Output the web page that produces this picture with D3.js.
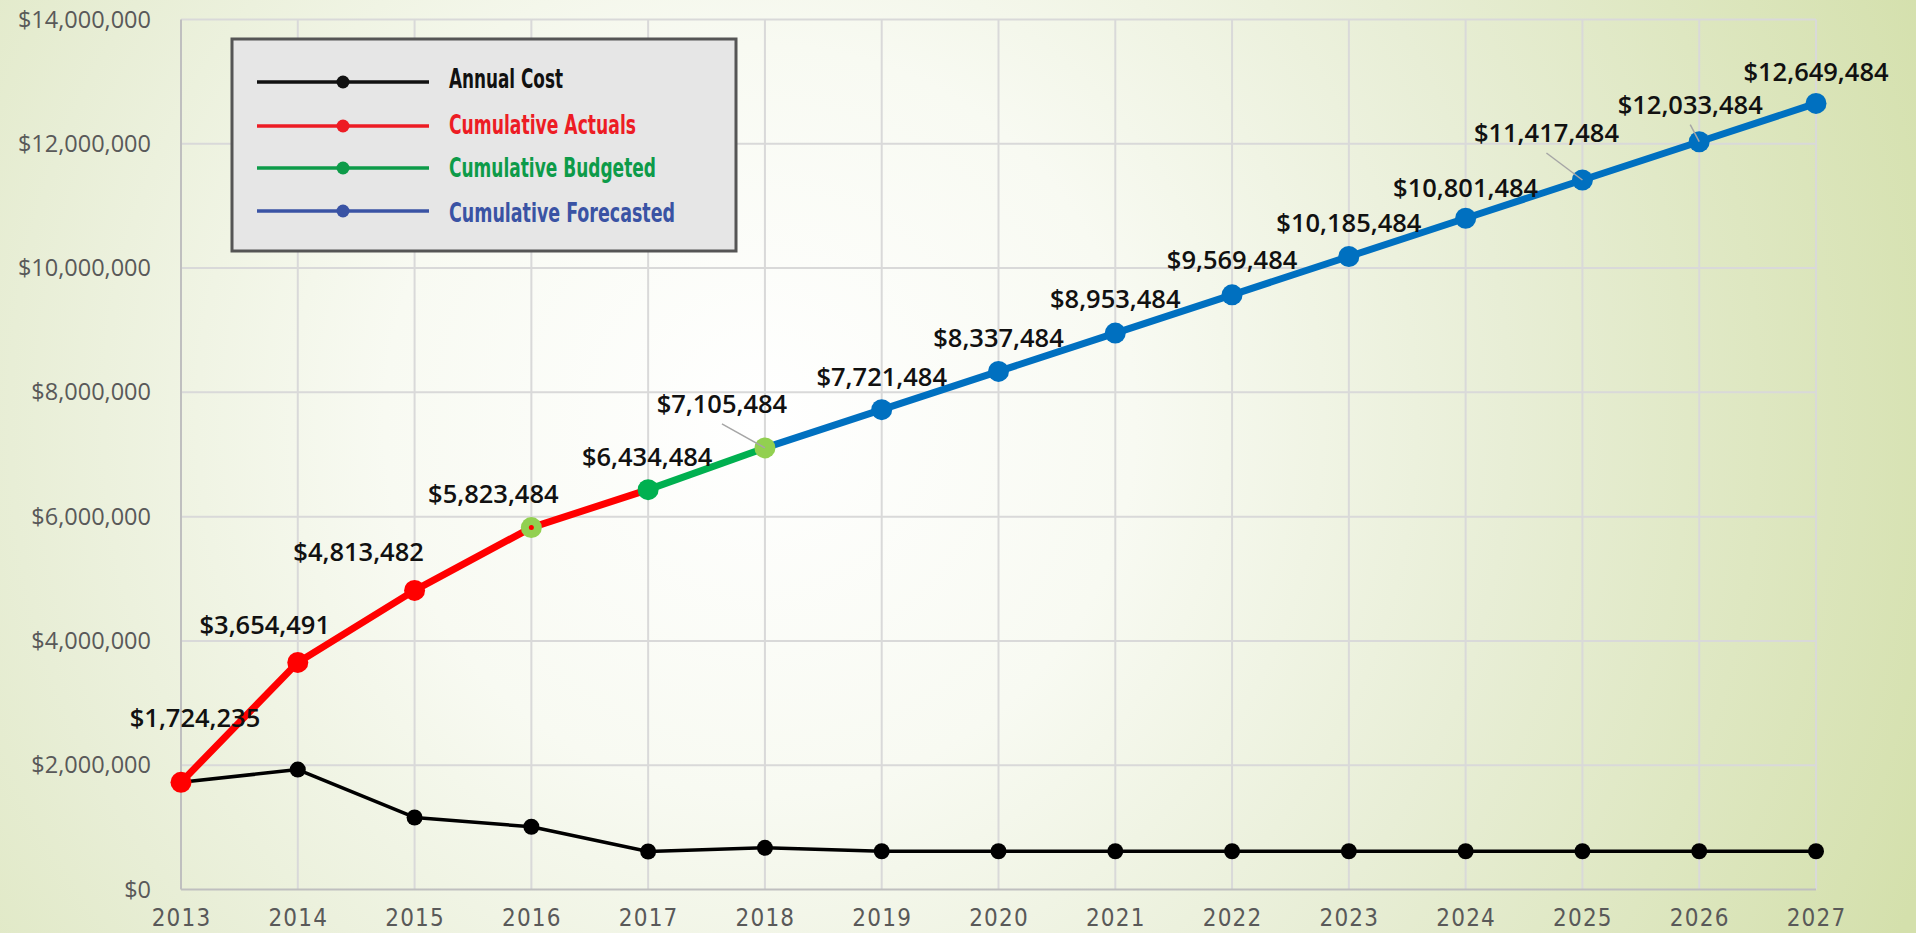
<!DOCTYPE html>
<html><head><meta charset="utf-8">
<script src="https://cdn.jsdelivr.net/npm/d3@7"></script>
<style>
html,body{margin:0;padding:0;overflow:hidden;}
svg{display:block;}
</style></head>
<body>
<svg id="chart" width="1916" height="933"></svg>
<script>
// ---------------- DATA ----------------
const years = [2013,2014,2015,2016,2017,2018,2019,2020,2021,2022,2023,2024,2025,2026,2027];
const annualCost = [1724235,1930256,1158991,1010002,611000,671000,616000,616000,616000,616000,616000,616000,616000,616000,616000];
const cumulative = [1724235,3654491,4813482,5823484,6434484,7105484,7721484,8337484,8953484,9569484,10185484,10801484,11417484,12033484,12649484];
const actualYears = [2013,2014,2015,2016,2017];
const budgetedYears = [2017,2018];
const forecastYears = [2018,2019,2020,2021,2022,2023,2024,2025,2026,2027];
const yTicks = [0,2000000,4000000,6000000,8000000,10000000,12000000,14000000];
const legendLabels = ["Annual Cost","Cumulative Actuals","Cumulative Budgeted","Cumulative Forecasted"];

// ---------------- LAYOUT / STYLE ----------------
const W = 1916, H = 933;
const plot = {left:181, right:1816, top:19.5, bottom:889.5};
const labelOffsets = [[14,-55],[-33,-28],[-56,-29],[-38,-25],[-1,-24],[-43,-35],[0,-24],[0,-24],[0,-25],[0,-26],[0,-25],[0,-21],[-36,-38],[-9,-28],[0,-22]];
const leaderYears = [2018,2025,2026];
const markerFill = {2013:"#ff0000",2014:"#ff0000",2015:"#ff0000",2016:"#92d050",2017:"#00b050",2018:"#92d050"};
const blue = "#0070c0";

const svg = d3.select("#chart");
const defs = svg.append("defs");
const rg = defs.append("radialGradient").attr("id","bg")
  .attr("gradientUnits","userSpaceOnUse").attr("cx",760).attr("cy",420).attr("r",1250)
  .attr("fx",760).attr("fy",420);
rg.append("stop").attr("offset","0%").attr("stop-color","#ffffff");
rg.append("stop").attr("offset","30%").attr("stop-color","#f8faf2");
rg.append("stop").attr("offset","60%").attr("stop-color","#e8eed6");
rg.append("stop").attr("offset","100%").attr("stop-color","#d4e0ac");
svg.append("rect").attr("width",W).attr("height",H).attr("fill","url(#bg)");

const x = d3.scaleLinear().domain([2013,2027]).range([plot.left, plot.right]);
const y = d3.scaleLinear().domain([0,14000000]).range([plot.bottom, plot.top]);

// grid
const grid = svg.append("g");
grid.selectAll("line.h").data(yTicks.slice(1)).join("line")
  .attr("x1",plot.left).attr("x2",plot.right).attr("y1",d=>y(d)).attr("y2",d=>y(d))
  .attr("stroke","#d9d9d9").attr("stroke-width",2);
grid.selectAll("line.v").data(years.slice(1)).join("line")
  .attr("x1",d=>x(d)).attr("x2",d=>x(d)).attr("y1",plot.top).attr("y2",plot.bottom)
  .attr("stroke","#d9d9d9").attr("stroke-width",2);
grid.append("line").attr("x1",plot.left).attr("x2",plot.left).attr("y1",plot.top).attr("y2",plot.bottom)
  .attr("stroke","#bfbfbf").attr("stroke-width",2);
grid.append("line").attr("x1",plot.left).attr("x2",plot.right).attr("y1",plot.bottom).attr("y2",plot.bottom)
  .attr("stroke","#bfbfbf").attr("stroke-width",2);

// axes
const fmt = d3.format(",");
const yAxis = svg.append("g").attr("transform",`translate(${plot.left},0)`)
  .call(d3.axisLeft(y).tickValues(yTicks).tickSize(0).tickPadding(30).tickFormat(d=>"$"+fmt(d)));
yAxis.select(".domain").remove();
yAxis.selectAll("text").attr("font-family","'Open Sans','Noto Sans',sans-serif").attr("font-size",23.5).attr("fill","#595959");

const xAxis = svg.append("g").attr("transform",`translate(0,${plot.bottom})`)
  .call(d3.axisBottom(x).tickValues(years).tickSize(0).tickPadding(19).tickFormat(d3.format("d")));
xAxis.select(".domain").remove();
xAxis.selectAll("text").attr("font-family","'Liberation Sans Narrow','DejaVu Sans Condensed',sans-serif")
  .attr("font-size",24).attr("fill","#595959").attr("letter-spacing","1.2px");

// legend
const lg = svg.append("g");
lg.append("rect").attr("x",232).attr("y",39).attr("width",504).attr("height",212)
  .attr("fill","#e6e6e6").attr("stroke","#555555").attr("stroke-width",3);
const legendColors = ["#111111","#ed1c24","#0d9b49","#3a53a4"];
const legendRows = [82,126,168,211];
const legendTextW = [114,187,207,226];
const legendTextDy = [-4,-2,-1,1];
legendLabels.forEach((lab,i)=>{
  const ry = legendRows[i];
  lg.append("line").attr("x1",257).attr("x2",429).attr("y1",ry).attr("y2",ry)
    .attr("stroke",legendColors[i]).attr("stroke-width",3.5);
  lg.append("circle").attr("cx",343).attr("cy",ry).attr("r",6.5).attr("fill",legendColors[i]);
  lg.append("text").attr("x",449).attr("y",ry+legendTextDy[i]).attr("dy","0.36em")
    .attr("font-family","'Liberation Sans Narrow','DejaVu Sans Condensed',sans-serif")
    .attr("font-weight","bold").attr("font-size",27).attr("fill",legendColors[i])
    .attr("textLength",legendTextW[i]).attr("lengthAdjust","spacingAndGlyphs").text(lab);
});

// annual cost line
const annual = years.map((yr,i)=>({yr, v:annualCost[i]}));
const lineGen = d3.line().x(d=>x(d.yr)).y(d=>y(d.v));
svg.append("path").datum(annual).attr("d",lineGen).attr("fill","none")
  .attr("stroke","#000").attr("stroke-width",3.5).attr("stroke-linejoin","round");
svg.selectAll("circle.ac").data(annual).join("circle").attr("class","ac")
  .attr("cx",d=>x(d.yr)).attr("cy",d=>y(d.v)).attr("r",8).attr("fill","#000");

// cumulative lines
const cum = years.map((yr,i)=>({yr, v:cumulative[i]}));
const pick = ys => cum.filter(d=>ys.includes(d.yr));
[[forecastYears,blue],[budgetedYears,"#00b050"],[actualYears,"#ff0000"]].forEach(([ys,c])=>{
  svg.append("path").datum(pick(ys)).attr("d",lineGen).attr("fill","none")
    .attr("stroke",c).attr("stroke-width",7).attr("stroke-linejoin","round");
});
svg.selectAll("circle.cm").data(cum).join("circle").attr("class","cm")
  .attr("cx",d=>x(d.yr)).attr("cy",d=>y(d.v)).attr("r",10.5)
  .attr("fill",d=>markerFill[d.yr]||blue);
svg.append("circle").attr("cx",x(2016)).attr("cy",y(cumulative[years.indexOf(2016)])).attr("r",2.5).attr("fill","#ff0000");

// labels & leaders
cum.forEach((d,i)=>{
  const px = x(d.yr), py = y(d.v);
  const lx = px + labelOffsets[i][0], ly = py + labelOffsets[i][1];
  if (leaderYears.includes(d.yr)) {
    svg.append("line").attr("x1",lx).attr("y1",ly+11).attr("x2",px).attr("y2",py)
      .attr("stroke","#a6a6a6").attr("stroke-width",1.5);
  }
  svg.append("text").attr("x",lx).attr("y",ly).attr("text-anchor","middle")
    .attr("font-family","'Open Sans','Noto Sans',sans-serif").attr("font-weight",600)
    .attr("font-size",25.5).attr("fill","#111").text("$"+fmt(d.v));
});
</script>
</body></html>
